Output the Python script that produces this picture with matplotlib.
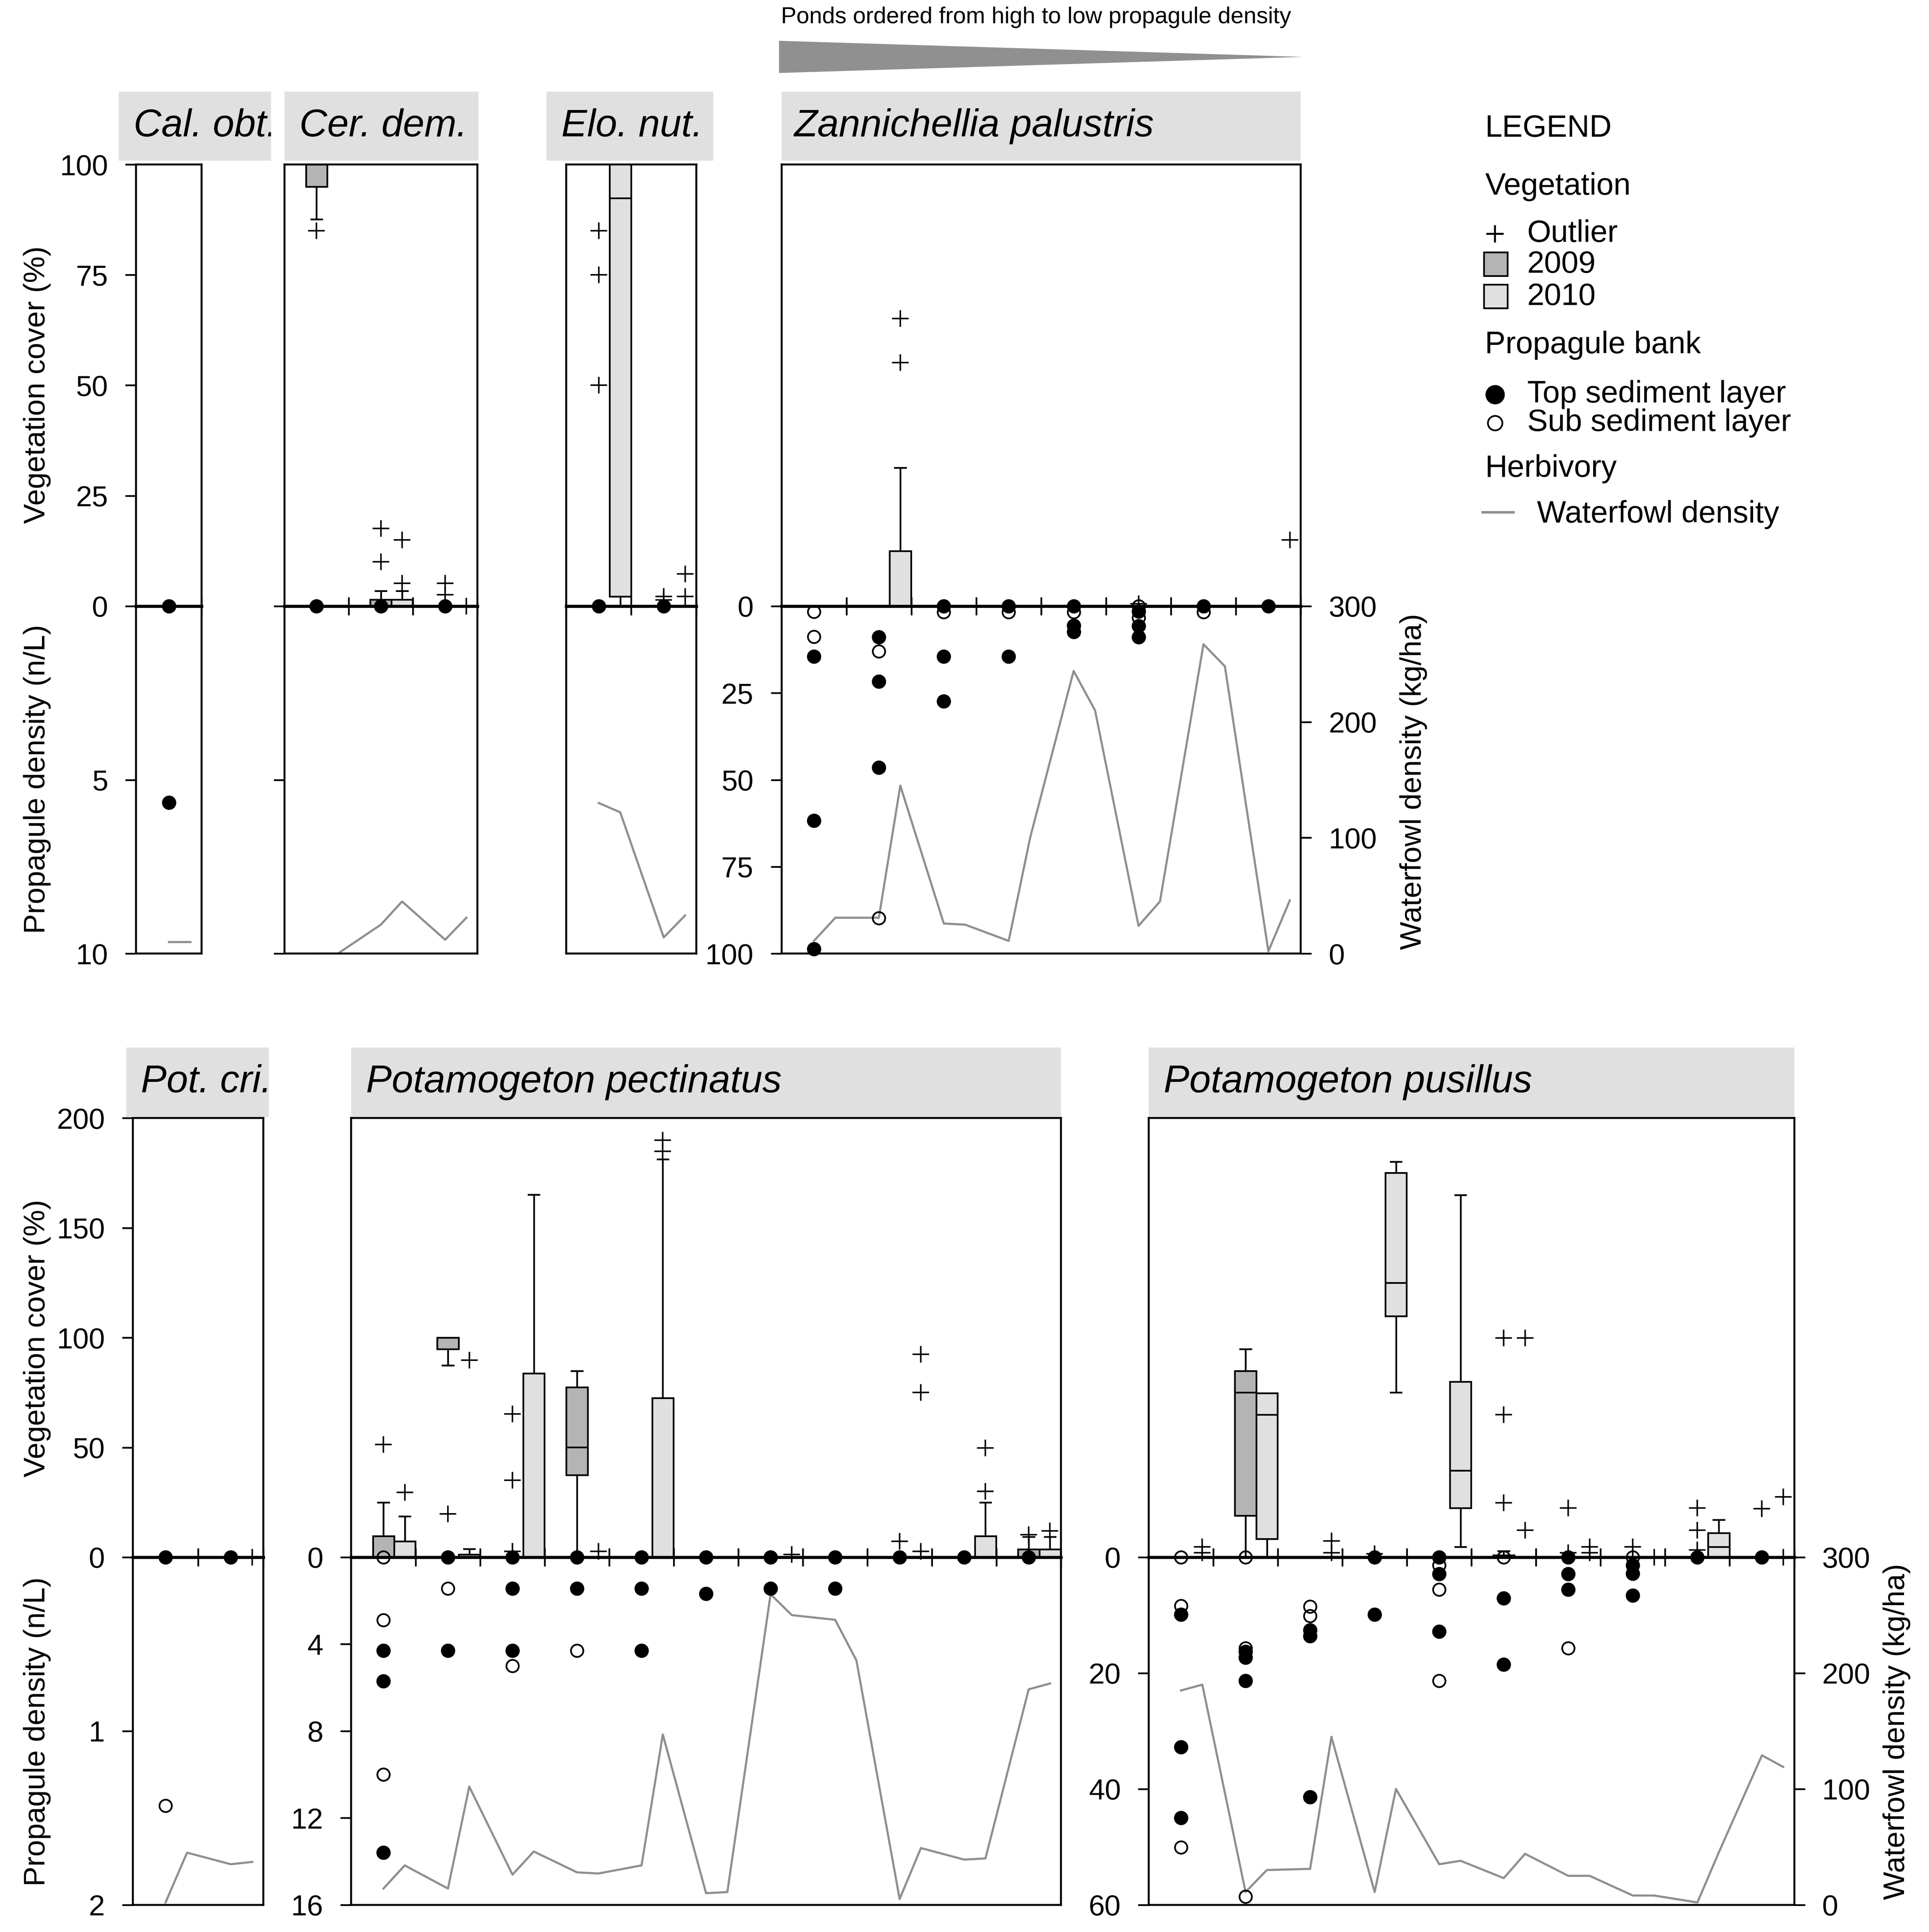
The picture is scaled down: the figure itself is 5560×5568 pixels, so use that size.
import matplotlib
matplotlib.use('Agg')
import matplotlib.pyplot as plt
from matplotlib.patches import Polygon, Rectangle

plt.rcParams['font.family'] = ['Liberation Sans', 'DejaVu Sans']

# colours
DARK = '#b4b4b4'
LIGHT = '#e0e0e0'
GREY_LINE = '#8f8f8f'

# ---------------- data ----------------
# box = (whislo, q1, median, q3, whishi), None = nothing drawn
Z = (0, 0, 0, 0, 0)

# Cal. obt. (1 pond)
cal_box_2009 = [None]
cal_out_2009 = [[]]
cal_box_2010 = [None]
cal_out_2010 = [[]]
cal_top = [[0, 5.65]]
cal_sub = [[]]
cal_wf_2009 = [10]
cal_wf_2010 = [10]

# Cer. dem. (3 ponds)
cer_box_2009 = [(87.6, 95, 100, 100, 100), (0, 0, 0, 1.5, 3.4), Z]
cer_out_2009 = [[85], [17.6, 10], [5.2, 2.6]]
cer_box_2010 = [None, (0, 0, 0, 1.5, 3.4), Z]
cer_out_2010 = [[], [15, 5.2], [0]]
cer_top = [[0], [0], [0]]
cer_sub = [[], [], []]
cer_wf_2009 = [0, 25, 12]
cer_wf_2010 = [0, 45, 31]

# Elo. nut. (2 ponds)
elo_box_2009 = [Z, Z]
elo_out_2009 = [[85, 75, 50], [2.2, 1.4]]
elo_box_2010 = [(0, 2.2, 92.4, 110, 110), Z]
elo_out_2010 = [[], [7.3, 2.2]]
elo_top = [[0], [0]]
elo_sub = [[], []]
elo_wf_2009 = [130, 14]
elo_wf_2010 = [122, 33]

# Zannichellia palustris (8 ponds)
zan_box_2009 = [None, None, None, None, None, Z, None, None]
zan_out_2009 = [[], [], [], [], [], [0.5], [], []]
zan_box_2010 = [None, (0, 0, 0, 12.5, 31.3), None, None, None, None, None, Z]
zan_out_2010 = [[], [65.1, 55.1], [], [], [], [], [], [15]]
zan_top = [[14.5, 61.7, 98.7], [8.9, 21.7, 46.5], [0, 14.5, 27.4], [0, 14.5],
           [0, 5.6, 7.4], [1.5, 5.7, 8.9], [0], [0]]
zan_sub = [[1.6, 8.8], [13.0, 89.8], [1.7], [1.7], [1.7], [0, 3.3], [1.7], []]
zan_wf_2009 = [11, 31, 26, 11, 244, 24, 267, 2]
zan_wf_2010 = [31, 145, 25, 100, 210, 45, 248, 46]

# Pot. cri. (2 ponds)
cri_box_2009 = [None, None]
cri_out_2009 = [[], []]
cri_box_2010 = [None, Z]
cri_out_2010 = [[], [0]]
cri_top = [[0], [0]]
cri_sub = [[1.43], []]
cri_wf_2009 = [2, 35]
cri_wf_2010 = [45, 37]

# Potamogeton pectinatus (11 ponds)
pec_box_2009 = [(0, 0, 0, 9.7, 25.0), (87.4, 94.8, 100, 100, 100), Z,
                (0, 37.4, 50.1, 77.4, 84.8), None, None, None, None, Z, None,
                (0, 0, 0, 3.6, 9.3)]
pec_out_2009 = [[51.4], [19.8], [65.2, 35.0, 2.7], [], [], [], [], [], [7.3], [], [10.3]]
pec_box_2010 = [(0, 0, 0, 7.3, 18.7), (0, 0, 0, 1.3, 3.7), (0, 0, 0, 83.8, 165.2), Z,
                (0, 0, 0, 72.5, 181.3), None, Z, None, Z, (0, 0, 0, 9.7, 25.0),
                (0, 0, 0, 3.6, 9.3)]
pec_out_2010 = [[29.6], [89.7], [], [2.7], [184.9, 189.9], [], [1.3], [],
                [92.4, 75.0, 2.7], [30.0, 49.8], [12.0]]
pec_top = [[4.3, 5.7, 13.6], [0, 4.3], [0, 1.44, 4.3], [0, 1.44], [0, 1.44, 4.3],
           [0, 1.68], [0, 1.44], [0, 1.44], [0], [0], [0]]
pec_sub = [[0, 2.9, 10.0], [1.44], [5.0], [4.3], [], [], [], [], [], [], []]
pec_wf_2009 = [14, 14, 26, 28, 34, 10, 268, 246, 5, 39, 186]
pec_wf_2010 = [34, 102, 46, 27, 147, 11, 250, 211, 49, 40, 191]

# Potamogeton pusillus (10 ponds)
pus_box_2009 = [None, (0, 19.0, 75.0, 84.8, 94.8), None, Z, None, (0, 0, 0, 1.0, 2.9),
                Z, Z, Z, Z]
pus_out_2009 = [[], [], [], [1.5], [], [99.8, 65.0, 24.8], [22.5, 2.0], [4.7, 0],
                [22.5, 12.3, 3.3], [22.1]]
pus_box_2010 = [Z, (0, 8.3, 65.0, 74.7, 74.7), Z, (75.0, 109.8, 125.0, 175.1, 180.2),
                (4.7, 22.4, 39.5, 80.0, 165.0), Z, Z, Z, (0, 0, 4.7, 11.0, 17.0), Z]
pus_out_2010 = [[4.7, 2.0], [], [7.4, 2.0], [], [], [99.8, 12.3], [4.7, 2.0], [0], [],
                [27.5, 0]]
pus_top = [[9.9, 32.8, 45.0], [16.3, 17.3, 21.3], [12.6, 13.6, 41.4], [0, 9.9],
           [0, 2.9, 12.8], [7.1, 18.5], [0, 2.9, 5.6], [1.4, 2.8, 6.6], [0], [0]]
pus_sub = [[0, 8.4, 50.1], [0, 15.7, 58.6], [8.5, 10.1], [], [1.4, 5.6, 21.3], [0],
           [15.7], [0], [], []]
pus_wf_2009 = [185, 11, 31, 11, 35, 23, 25, 8, 2, 129]
pus_wf_2010 = [190, 30, 145, 100, 38, 44, 25, 8, 45, 119]

# ---------------- layout helpers ----------------
DW, DH = 1560.0, 1562.0   # reference measured on a 1560 x 1562 grid


def fr(x0, y0, x1, y1):
    return [x0 / DW, 1 - y1 / DH, (x1 - x0) / DW, (y1 - y0) / DH]


fig = plt.figure(figsize=(13.9, 13.92), dpi=400)

ROWS = {'top': (133, 490, 771, 100), 'bottom': (904, 1259, 1540, 200)}
OFF = 0.33
TICK = dict(direction='out', length=5.5, width=0.9, pad=9, labelsize=15)


def add_boxes(ax, boxes, outs, offset, colour):
    stats, pos = [], []
    for i, (b, o) in enumerate(zip(boxes, outs)):
        if b is None:
            continue
        lo, q1, med, q3, hi = b
        stats.append(dict(whislo=lo, q1=q1, med=med, q3=q3, whishi=hi, fliers=o))
        pos.append(i + offset)
    if not stats:
        return
    art = ax.bxp(stats, positions=pos, widths=0.33, capwidths=0.17, patch_artist=True,
                 manage_ticks=False,
                 boxprops=dict(facecolor=colour, edgecolor='black', linewidth=0.9),
                 medianprops=dict(color='black', linewidth=0.9),
                 whiskerprops=dict(color='black', linewidth=0.9),
                 capprops=dict(color='black', linewidth=0.9),
                 flierprops=dict(marker='+', markersize=8.5, markeredgecolor='black',
                                 markeredgewidth=0.8, linestyle='none'))
    for f in art['fliers']:
        f.set_clip_on(False)


def draw_panel(x0, x1, row, box09, out09, box10, out10, top, sub, wf09, wf10,
               veg_ticks=None, seed_max=10, seed_ticks=None, seed_labels=None,
               wf_axis=False):
    n = len(wf09)
    y_top, y_zero, y_bot, veg_max = ROWS[row]

    ax_top = fig.add_axes(fr(x0, y_top, x1, y_zero))
    ax_bot = fig.add_axes(fr(x0, y_zero, x1, y_bot))
    ax_wf = ax_bot.twinx()
    ax_bot.set_zorder(ax_wf.get_zorder() + 1)
    ax_bot.patch.set_visible(False)

    # vegetation cover (upper part)
    ax_top.set_xlim(-0.5, n - 0.5)
    ax_top.set_ylim(0, veg_max)
    add_boxes(ax_top, box09, out09, 0, DARK)
    add_boxes(ax_top, box10, out10, OFF, LIGHT)
    for s in ['left', 'right', 'top']:
        ax_top.spines[s].set_linewidth(1.0)
    ax_top.spines['bottom'].set_linewidth(1.6)
    ax_top.set_xticks([i + 0.5 for i in range(n)])
    ax_top.tick_params(axis='x', direction='inout', length=9.5, width=0.9,
                       labelbottom=False)
    if veg_ticks is None:
        ax_top.set_yticks([])
    else:
        ax_top.set_yticks(veg_ticks)
        ax_top.set_yticklabels([str(v) for v in veg_ticks])
        ax_top.tick_params(axis='y', **TICK)

    # propagule density (lower part, inverted)
    ax_bot.set_xlim(-0.5, n - 0.5)
    ax_bot.set_ylim(seed_max, 0)
    ax_bot.spines['top'].set_visible(False)
    for s in ['left', 'right', 'bottom']:
        ax_bot.spines[s].set_linewidth(1.0)
    ax_bot.set_xticks([])
    if seed_ticks is None:
        ax_bot.set_yticks([])
    else:
        ax_bot.set_yticks(seed_ticks)
        if seed_labels is None:
            ax_bot.set_yticklabels([])
        else:
            ax_bot.set_yticklabels(seed_labels)
        ax_bot.tick_params(axis='y', **TICK)
    for i in range(n):
        if top[i]:
            ax_bot.plot([i] * len(top[i]), top[i], 'o', ms=6.6, mfc='black',
                        mec='black', mew=0.8, clip_on=False)
        if sub[i]:
            ax_bot.plot([i] * len(sub[i]), sub[i], 'o', ms=6.4, mfc='none',
                        mec='black', mew=0.9, clip_on=False)

    # waterfowl density
    xs, ys = [], []
    for i in range(n):
        xs += [i, i + OFF]
        ys += [wf09[i], wf10[i]]
    ax_wf.plot(xs, ys, color=GREY_LINE, lw=1.1)
    ax_wf.set_xlim(-0.5, n - 0.5)
    ax_wf.set_ylim(0, 300)
    for s in ax_wf.spines.values():
        s.set_visible(False)
    if wf_axis:
        ax_wf.set_yticks([0, 100, 200, 300])
        ax_wf.tick_params(axis='y', **TICK)
    else:
        ax_wf.set_yticks([])


def strip(x0, x1, y0, y1, label, tx):
    ax = fig.add_axes(fr(x0, y0, x1, y1))
    ax.set_facecolor(LIGHT)
    ax.set_xticks([])
    ax.set_yticks([])
    for s in ax.spines.values():
        s.set_visible(False)
    ax.text((tx - x0) / (x1 - x0), 0.5, label, transform=ax.transAxes, ha='left',
            va='center', fontsize=20, style='italic', clip_on=True)


# ---------------- panels ----------------
draw_panel(110, 163, 'top', cal_box_2009, cal_out_2009, cal_box_2010, cal_out_2010,
           cal_top, cal_sub, cal_wf_2009, cal_wf_2010,
           veg_ticks=[0, 25, 50, 75, 100], seed_max=10, seed_ticks=[0, 5, 10],
           seed_labels=['', '5', '10'])
draw_panel(230, 386, 'top', cer_box_2009, cer_out_2009, cer_box_2010, cer_out_2010,
           cer_top, cer_sub, cer_wf_2009, cer_wf_2010,
           seed_max=10, seed_ticks=[0, 5, 10])
draw_panel(458, 563, 'top', elo_box_2009, elo_out_2009, elo_box_2010, elo_out_2010,
           elo_top, elo_sub, elo_wf_2009, elo_wf_2010, seed_max=10)
draw_panel(632, 1052, 'top', zan_box_2009, zan_out_2009, zan_box_2010, zan_out_2010,
           zan_top, zan_sub, zan_wf_2009, zan_wf_2010,
           seed_max=100, seed_ticks=[0, 25, 50, 75, 100],
           seed_labels=['0', '25', '50', '75', '100'], wf_axis=True)

draw_panel(107.5, 213, 'bottom', cri_box_2009, cri_out_2009, cri_box_2010, cri_out_2010,
           cri_top, cri_sub, cri_wf_2009, cri_wf_2010,
           veg_ticks=[0, 50, 100, 150, 200], seed_max=2, seed_ticks=[0, 1, 2],
           seed_labels=['', '1', '2'])
draw_panel(284, 858, 'bottom', pec_box_2009, pec_out_2009, pec_box_2010, pec_out_2010,
           pec_top, pec_sub, pec_wf_2009, pec_wf_2010,
           seed_max=16, seed_ticks=[0, 4, 8, 12, 16],
           seed_labels=['0', '4', '8', '12', '16'])
draw_panel(929, 1451, 'bottom', pus_box_2009, pus_out_2009, pus_box_2010, pus_out_2010,
           pus_top, pus_sub, pus_wf_2009, pus_wf_2010,
           seed_max=60, seed_ticks=[0, 20, 40, 60],
           seed_labels=['0', '20', '40', '60'], wf_axis=True)

# title strips
strip(96, 219, 74, 130, 'Cal. obt.', 108)
strip(230, 387, 74, 130, 'Cer. dem.', 242)
strip(442, 577, 74, 130, 'Elo. nut.', 454)
strip(632, 1052, 74, 130, 'Zannichellia palustris', 642)
strip(102, 217.5, 847, 903, 'Pot. cri.', 114)
strip(284, 858, 847, 903, 'Potamogeton pectinatus', 296)
strip(929, 1451, 847, 903, 'Potamogeton pusillus', 941)

# axis titles
def ftext(x, y, s, **kw):
    fig.text(x / DW, 1 - y / DH, s, **kw)


ftext(30, 311, 'Vegetation cover (%)', rotation=90, ha='center', va='center', fontsize=15.5)
ftext(30, 630, 'Propagule density (n/L)', rotation=90, ha='center', va='center', fontsize=15.5)
ftext(30, 1082, 'Vegetation cover (%)', rotation=90, ha='center', va='center', fontsize=15.5)
ftext(30, 1400, 'Propagule density (n/L)', rotation=90, ha='center', va='center', fontsize=15.5)
ftext(1143, 632, 'Waterfowl density (kg/ha)', rotation=90, ha='center', va='center', fontsize=15.5)
ftext(1534, 1400, 'Waterfowl density (kg/ha)', rotation=90, ha='center', va='center', fontsize=15.5)

# pond order wedge
ftext(838, 14, 'Ponds ordered from high to low propagule density', ha='center',
      va='center', fontsize=12)
wedge = Polygon([(630 / DW, 1 - 33 / DH), (1054 / DW, 1 - 46 / DH), (630 / DW, 1 - 59 / DH)],
                closed=True, transform=fig.transFigure, facecolor='#909090',
                edgecolor='none')
fig.add_artist(wedge)

# legend
lg = fig.add_axes(fr(1190, 80, 1560, 440))
lg.set_xlim(1190, 1560)
lg.set_ylim(440, 80)
lg.axis('off')
fs = 16
lg.text(1201, 104, 'LEGEND', fontsize=fs, va='center')
lg.text(1201, 151, 'Vegetation', fontsize=fs, va='center')
lg.plot([1209], [189], '+', ms=9, mec='black', mew=1.0)
lg.text(1235, 189, 'Outlier', fontsize=fs, va='center')
lg.add_patch(Rectangle((1200, 204), 19, 19, facecolor=DARK, edgecolor='black', lw=0.9))
lg.text(1235, 214, '2009', fontsize=fs, va='center')
lg.add_patch(Rectangle((1200, 230), 19, 19, facecolor=LIGHT, edgecolor='black', lw=0.9))
lg.text(1235, 240, '2010', fontsize=fs, va='center')
lg.text(1201, 279, 'Propagule bank', fontsize=fs, va='center')
lg.plot([1209], [319], 'o', ms=9, mfc='black', mec='black')
lg.text(1235, 319, 'Top sediment layer', fontsize=fs, va='center')
lg.plot([1209], [342], 'o', ms=7.5, mfc='none', mec='black', mew=0.9)
lg.text(1235, 342, 'Sub sediment layer', fontsize=fs, va='center')
lg.text(1201, 379, 'Herbivory', fontsize=fs, va='center')
lg.plot([1199, 1224], [414, 414], color=GREY_LINE, lw=1.3)
lg.text(1243, 416, 'Waterfowl density', fontsize=fs, va='center')

fig.savefig('out.png', dpi=400, facecolor='white')
